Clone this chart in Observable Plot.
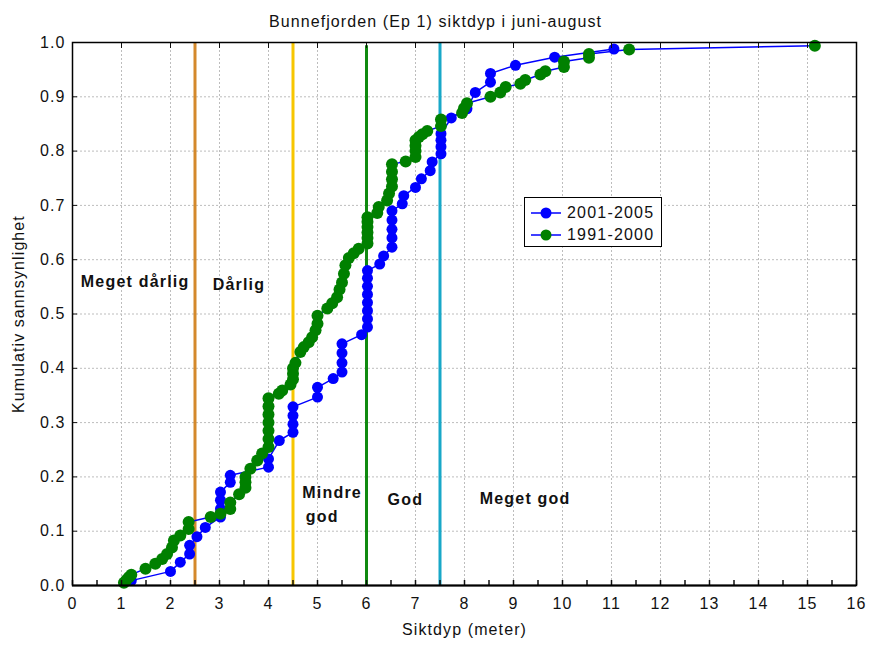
<!DOCTYPE html>
<html>
<head>
<meta charset="utf-8">
<script src="https://cdn.jsdelivr.net/npm/d3@7"></script>
<script src="https://cdn.jsdelivr.net/npm/@observablehq/plot@0.6"></script>
<style>
  body { margin: 0; background: #fff; font-family: "Liberation Sans", Arial, sans-serif; }
  #wrap { position: relative; width: 870px; height: 646px; }
  #wrap svg text { letter-spacing: 1.1px; }
  #wrap .zone text, #wrap text.zone { letter-spacing: 1.2px; }
  #legend { position: absolute; left: 524px; top: 197px; width: 136px; height: 48px; border: 1px solid #000; background: #fff; font-size: 16px; color: #111; letter-spacing: 1.2px; }
  .row { position: absolute; left: 6px; height: 20px; display: flex; align-items: center; }
  .row span { margin-left: 6px; }
</style>
</head>
<body>
<div id="wrap"></div>
<script>
// ---- data ----
const title = "Bunnefjorden (Ep 1) siktdyp i juni-august";
const xLabel = "Siktdyp (meter)";
const yLabel = "Kumulativ sannsynlighet";
const seriesNames = ["2001-2005", "1991-2000"];
const seriesColors = ["#0000ff", "#008000"];

const x2001 = [1.2, 2.0, 2.2, 2.39, 2.39, 2.54, 2.71, 3.02, 3.02, 3.02, 3.02, 3.22, 3.22, 4.0, 4.0, 4.22, 4.5, 4.5, 4.5, 4.5, 5.0, 5.0, 5.32, 5.5, 5.5, 5.5, 5.5, 5.9, 6.02, 6.02, 6.02, 6.02, 6.02, 6.02, 6.02, 6.02, 6.27, 6.35, 6.52, 6.52, 6.52, 6.52, 6.52, 6.73, 6.76, 7.0, 7.12, 7.3, 7.34, 7.52, 7.52, 7.52, 7.52, 7.73, 8.05, 8.22, 8.53, 8.53, 9.04, 9.84, 11.05];
const p2001 = [0.009, 0.026, 0.043, 0.058, 0.074, 0.09, 0.107, 0.126, 0.141, 0.157, 0.172, 0.19, 0.203, 0.218, 0.233, 0.267, 0.282, 0.297, 0.313, 0.329, 0.347, 0.365, 0.381, 0.393, 0.41, 0.428, 0.445, 0.462, 0.476, 0.491, 0.506, 0.521, 0.536, 0.551, 0.566, 0.58, 0.592, 0.607, 0.623, 0.64, 0.656, 0.673, 0.69, 0.703, 0.718, 0.733, 0.749, 0.764, 0.78, 0.795, 0.808, 0.82, 0.832, 0.861, 0.878, 0.908, 0.927, 0.943, 0.958, 0.973, 0.988];

const x1991 = [1.05, 1.1, 1.15, 1.2, 1.49, 1.69, 1.83, 1.93, 2.03, 2.07, 2.2, 2.37, 2.37, 2.82, 3.02, 3.22, 3.22, 3.4, 3.53, 3.53, 3.53, 3.63, 3.77, 3.87, 4.0, 4.0, 4.0, 4.0, 4.0, 4.0, 4.0, 4.21, 4.28, 4.45, 4.5, 4.5, 4.5, 4.55, 4.65, 4.72, 4.82, 4.89, 4.96, 5.0, 5.0, 5.2, 5.3, 5.4, 5.45, 5.5, 5.54, 5.57, 5.64, 5.74, 5.84, 6.02, 6.02, 6.02, 6.02, 6.02, 6.02, 6.22, 6.25, 6.42, 6.46, 6.52, 6.52, 6.52, 6.52, 6.8, 7.0, 7.0, 7.0, 7.0, 7.07, 7.14, 7.24, 7.52, 7.52, 7.95, 7.99, 8.05, 8.53, 8.73, 8.84, 9.14, 9.24, 9.55, 9.65, 10.03, 10.03, 10.54, 10.54, 11.36, 15.15];
const p1991 = [0.005, 0.01, 0.015, 0.02, 0.031, 0.04, 0.049, 0.058, 0.07, 0.083, 0.092, 0.104, 0.117, 0.126, 0.132, 0.141, 0.153, 0.168, 0.18, 0.19, 0.2, 0.215, 0.23, 0.243, 0.255, 0.27, 0.285, 0.3, 0.315, 0.33, 0.345, 0.353, 0.359, 0.37, 0.38, 0.39, 0.40, 0.41, 0.43, 0.439, 0.448, 0.457, 0.47, 0.482, 0.497, 0.51, 0.52, 0.531, 0.545, 0.558, 0.574, 0.59, 0.603, 0.612, 0.62, 0.63, 0.64, 0.65, 0.66, 0.67, 0.678, 0.686, 0.697, 0.709, 0.722, 0.735, 0.748, 0.762, 0.776, 0.781, 0.789, 0.8, 0.81, 0.82, 0.826, 0.831, 0.837, 0.846, 0.858, 0.87, 0.879, 0.888, 0.9, 0.908, 0.918, 0.924, 0.931, 0.941, 0.947, 0.955, 0.965, 0.972, 0.979, 0.987, 0.994];

// class boundaries
const limits = [2.5, 4.5, 6, 7.5];
const limitTops = [1, 1, 0.994, 1];
const limitColors = ["#d4892c", "#f7c600", "#108a10", "#18a8c8"];

// class names (annotation anchor in data units)
const zoneText = ["Meget dårlig", "Dårlig", "Mindre", "god", "God", "Meget god"];
const zoneX = [0.17, 2.86, 4.69, 4.76, 6.43, 8.31];
const zoneY = [0.56, 0.554, 0.171, 0.127, 0.157, 0.16];

const xTicks = d3.range(0, 17, 1);
const xMinor = d3.range(0, 16.5, 0.5);
const yTicks = d3.range(0, 11).map(i => i / 10);

// ---- build ----
const rows2001 = x2001.map((x, i) => ({x, p: p2001[i]}));
const rows1991 = x1991.map((x, i) => ({x, p: p1991[i]}));
const limitRows = limits.map((x, i) => ({x, top: limitTops[i], color: limitColors[i]}));
const zoneRows = zoneText.map((t, i) => ({t, x: zoneX[i], y: zoneY[i]}));

const chart = Plot.plot({
  width: 870,
  height: 646,
  marginLeft: 72,
  marginRight: 14,
  marginTop: 42,
  marginBottom: 61,
  style: {fontFamily: "Liberation Sans, Arial, sans-serif", fontSize: "16px", color: "#111", background: "#fff"},
  x: {domain: [0, 16], ticks: xTicks},
  y: {domain: [0, 1], ticks: yTicks},
  marks: [
    Plot.gridX(xTicks, {stroke: "#bdbdbd", strokeOpacity: 1, strokeDasharray: "2,2"}),
    Plot.gridY(yTicks, {stroke: "#bdbdbd", strokeOpacity: 1, strokeDasharray: "2,2"}),
    Plot.ruleX(limitRows, {x: "x", y1: 0, y2: "top", stroke: "color", strokeWidth: 3}),
    Plot.line(rows2001, {x: "x", y: "p", stroke: seriesColors[0], strokeWidth: 1.5}),
    Plot.line(rows1991, {x: "x", y: "p", stroke: seriesColors[0], strokeWidth: 1.5}),
    Plot.dot(rows2001, {x: "x", y: "p", r: 5.5, fill: seriesColors[0], stroke: null}),
    Plot.dot(rows1991, {x: "x", y: "p", r: 6, fill: seriesColors[1], stroke: null}),
    Plot.text(zoneRows, {x: "x", y: "y", text: "t", textAnchor: "start", fontWeight: "bold", fontSize: 16, fill: "#111", className: "zone"}),
    Plot.axisX(xTicks, {anchor: "bottom", tickSize: 0, tickPadding: 12, label: null, fontSize: 16}),
    Plot.axisX(xMinor, {anchor: "bottom", tickSize: -5, text: null, label: null, strokeWidth: 1.5}),
    Plot.axisX(xTicks, {anchor: "top", tickSize: -5, text: null, label: null}),
    Plot.axisY(yTicks, {anchor: "left", tickSize: 0, tickPadding: 7, tickFormat: d3.format(".1f"), label: null, fontSize: 16}),
    Plot.axisY(yTicks, {anchor: "left", tickSize: -5, text: null, label: null}),
    Plot.axisY(yTicks, {anchor: "right", tickSize: -5, text: null, label: null}),
    Plot.frame({stroke: "#000", strokeWidth: 1.5}),
    Plot.ruleY([0], {stroke: "#000", strokeWidth: 2}),
    Plot.text([xLabel], {frameAnchor: "bottom", dy: 49, text: d => d, fontSize: 16}),
    Plot.text([yLabel], {frameAnchor: "left", dx: -54, rotate: -90, textAnchor: "middle", lineAnchor: "middle", text: d => d, fontSize: 16}),
    Plot.text([title], {frameAnchor: "top", dy: -27, dx: -29, text: d => d, fontSize: 16})
  ]
});

const wrap = document.getElementById("wrap");
wrap.appendChild(chart);

// legend
const legend = document.createElement("div");
legend.id = "legend";
seriesNames.forEach((name, i) => {
  const row = document.createElement("div");
  row.className = "row";
  row.style.top = (5 + i * 22) + "px";
  const ns = "http://www.w3.org/2000/svg";
  const svg = document.createElementNS(ns, "svg");
  svg.setAttribute("width", 30); svg.setAttribute("height", 14);
  const ln = document.createElementNS(ns, "line");
  ln.setAttribute("x1", 0); ln.setAttribute("x2", 30); ln.setAttribute("y1", 7); ln.setAttribute("y2", 7);
  ln.setAttribute("stroke", seriesColors[0]); ln.setAttribute("stroke-width", 1.5);
  const c = document.createElementNS(ns, "circle");
  c.setAttribute("cx", 15); c.setAttribute("cy", 7); c.setAttribute("r", 5.5);
  c.setAttribute("fill", seriesColors[i]);
  svg.appendChild(ln); svg.appendChild(c);
  const sp = document.createElement("span");
  sp.textContent = name;
  row.appendChild(svg); row.appendChild(sp);
  legend.appendChild(row);
});
wrap.appendChild(legend);
</script>
</body>
</html>
